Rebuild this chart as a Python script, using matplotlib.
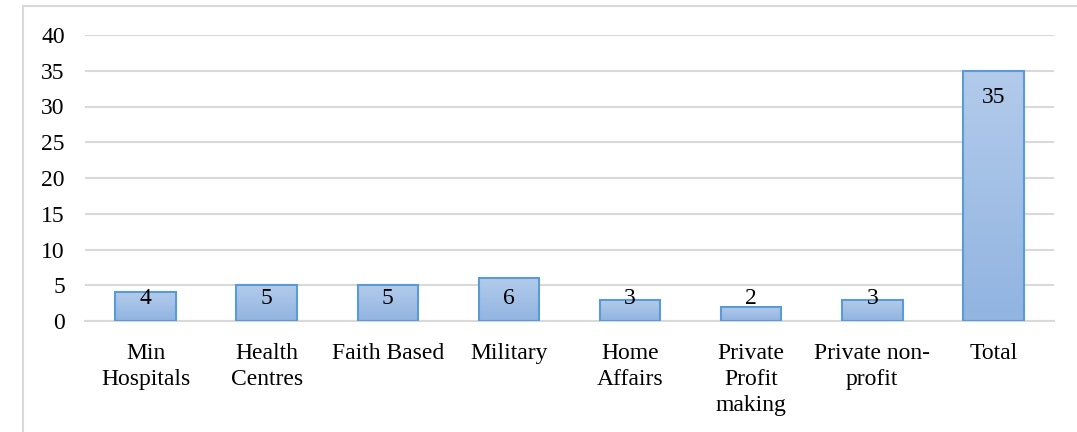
import numpy as np
import matplotlib
matplotlib.use("Agg")
import matplotlib.pyplot as plt
from matplotlib.colors import LinearSegmentedColormap
from matplotlib.lines import Line2D

categories = ["Min\nHospitals", "Health\nCentres", "Faith Based", "Military",
              "Home\nAffairs", "Private\nProfit\nmaking", "Private non-\nprofit", "Total"]
values = [4, 5, 5, 6, 3, 2, 3, 35]
yticks = [0, 5, 10, 15, 20, 25, 30, 35, 40]

plt.rcParams["font.family"] = ["Liberation Serif", "DejaVu Serif"]

W, H, DPI = 1077, 432, 100
fig = plt.figure(figsize=(W / DPI, H / DPI), dpi=DPI)

# outer chart frame (left and top edges)
fig.add_artist(Line2D([23 / W, 23 / W], [0, 1 - 6 / H], transform=fig.transFigure,
                      color="#d9d9d9", lw=1.5))
fig.add_artist(Line2D([23 / W, 1], [1 - 6 / H, 1 - 6 / H], transform=fig.transFigure,
                      color="#d9d9d9", lw=1.5))

left, right = 85 / W, 1054 / W
bottom, top = 1 - 321 / H, 1 - 35 / H
ax = fig.add_axes([left, bottom, right - left, top - bottom])

x = np.arange(len(categories))
bars = ax.bar(x, values, width=0.5, color="#a6c1e6", edgecolor="#5b9bd5",
              linewidth=1.5, zorder=3)

# vertical gradient fill inside each bar
cmap = LinearSegmentedColormap.from_list("barfill", ["#b3cbeb", "#91b4e1"])
grad = np.linspace(0, 1, 256).reshape(-1, 1)
for b in bars:
    x0, y0 = b.get_x(), b.get_y()
    w, h = b.get_width(), b.get_height()
    im = ax.imshow(grad, cmap=cmap, aspect="auto", origin="upper",
                   extent=[x0, x0 + w, y0, y0 + h], zorder=3.5)
    im.set_clip_path(b)
    b.set_facecolor("none")
    b.set_zorder(4)

for xi, v in zip(x, values):
    ax.text(xi, max(3.2, v - 3.8), str(v), ha="center", va="center",
            fontsize=17, color="#000000", zorder=5)

ax.set_xlim(-0.5, len(categories) - 0.5)
ax.set_ylim(0, 40)
ax.set_yticks(yticks)
ax.set_yticklabels([str(t) for t in yticks], fontsize=17)
ax.set_xticks(x)
ax.set_xticklabels(categories, fontsize=17, linespacing=1.3, va="top")
ax.tick_params(axis="both", length=0, colors="#000000")
ax.tick_params(axis="y", pad=14.5)
ax.tick_params(axis="x", pad=16)

ax.grid(axis="y", color="#d9d9d9", lw=1.5, zorder=0)
for s in ["top", "right", "left"]:
    ax.spines[s].set_visible(False)
ax.spines["bottom"].set_color("#d9d9d9")
ax.spines["bottom"].set_linewidth(1.5)

fig.savefig("out.png", dpi=DPI)
